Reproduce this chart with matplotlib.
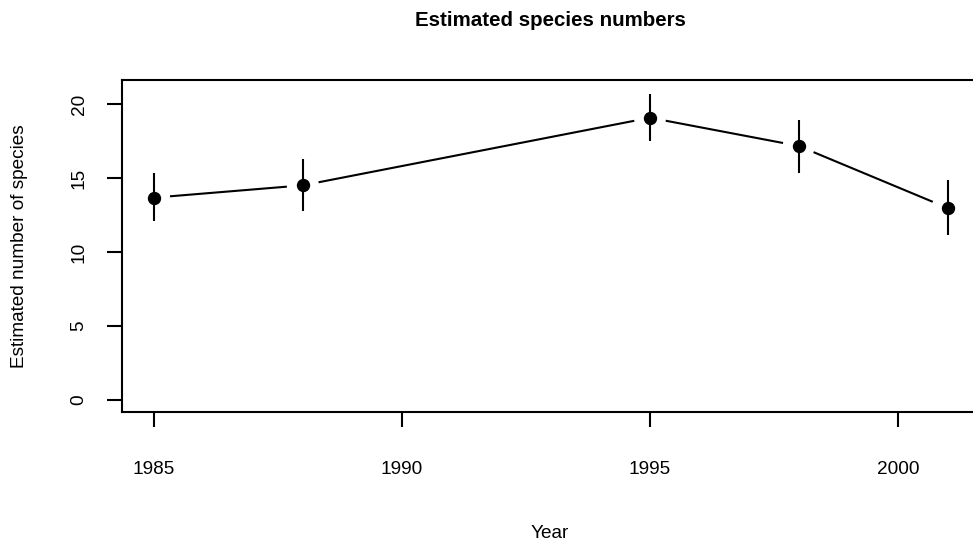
import numpy as np
import matplotlib
matplotlib.use("Agg")
import matplotlib.pyplot as plt

years = [1985, 1988, 1995, 1998, 2001]
estimate = [13.67, 14.50, 19.07, 17.16, 12.97]
lower = [12.11, 12.79, 17.52, 15.36, 11.15]
upper = [15.32, 16.26, 20.68, 18.92, 14.86]
xticks = [1985, 1990, 1995, 2000]
yticks = [0, 5, 10, 15, 20]

title = "Estimated species numbers"
xlabel = "Year"
ylabel = "Estimated number of species"

plt.rcParams['font.family'] = ['Liberation Sans', 'DejaVu Sans']

W, H = 973, 544
fig = plt.figure(figsize=(W / 100, H / 100), dpi=100)

left_px, right_px, top_px, bottom_px = 122.3, 979.3, 80, 412
ax = fig.add_axes([left_px / W, 1 - bottom_px / H,
                   (right_px - left_px) / W, (bottom_px - top_px) / H])

xr = max(years) - min(years)
ax.set_xlim(min(years) - 0.04 * xr, max(years) + 0.04 * xr)
ax.set_ylim(-0.82, 21.62)

lw = 1.5
for s in ['left', 'bottom', 'top', 'right']:
    ax.spines[s].set_linewidth(lw)
    ax.spines[s].set_color('black')

ax.set_xticks(xticks)
ax.set_yticks(yticks)
ax.set_xticklabels([str(v) for v in xticks], fontsize=13.7)
ax.set_yticklabels([str(v) for v in yticks], fontsize=13.7, rotation=90, va='center')
ax.tick_params(axis='x', direction='out', length=11, width=lw, pad=24.5)
ax.tick_params(axis='y', direction='out', length=11, width=lw, pad=14)

# error bars
ax.vlines(years, lower, upper, color='black', lw=lw)
# points
ax.plot(years, estimate, 'o', color='black', markersize=8.6, zorder=3)

# connecting segments with gaps (type = "b")
fig.canvas.draw()
gap = 16.0
pts = ax.transData.transform(np.column_stack([years, estimate]))
inv = ax.transData.inverted()
for i in range(len(years) - 1):
    p0, p1 = pts[i], pts[i + 1]
    d = p1 - p0
    L = np.hypot(*d)
    if L > 2 * gap:
        u = d / L
        a = inv.transform(p0 + u * gap)
        b = inv.transform(p1 - u * gap)
        ax.plot([a[0], b[0]], [a[1], b[1]], color='black', lw=lw,
                solid_capstyle='butt')

fig.text(550 / W, 1 - 20 / H, title, ha='center', va='center',
         fontsize=14.8, fontweight='bold')
fig.text(550 / W, 1 - 533 / H, xlabel, ha='center', va='center', fontsize=13.7)
fig.text(20 / W, 1 - 246 / H, ylabel, ha='center', va='center',
         fontsize=13.7, rotation=90)

fig.savefig("out.png", dpi=100)
